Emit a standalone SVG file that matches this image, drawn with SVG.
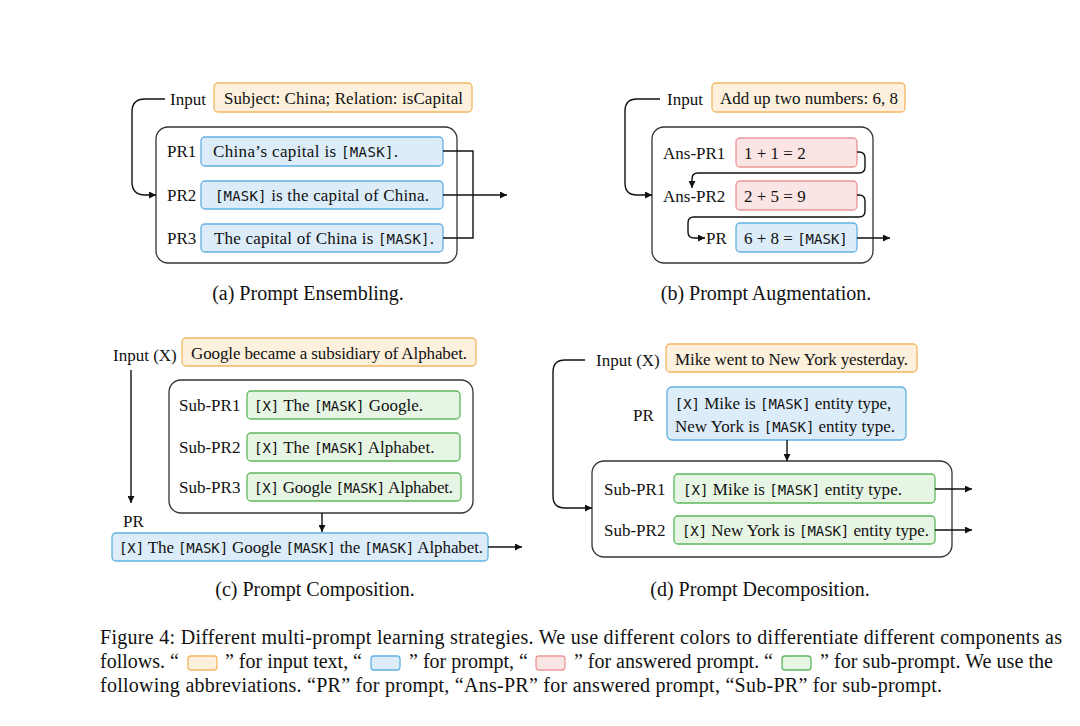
<svg xmlns="http://www.w3.org/2000/svg" width="1080" height="726" viewBox="0 0 1080 726" xml:space="preserve">
<defs>
<marker id="ah" viewBox="0 0 10 10" refX="10" refY="5" markerWidth="7" markerHeight="7" markerUnits="userSpaceOnUse" orient="auto"><path d="M0,0 L10,5 L0,10 z" fill="#111"/></marker>
<style>
.t{font-family:"Liberation Serif","Times New Roman",serif;font-size:17px;fill:#111}
.m{font-family:"DejaVu Sans Mono",monospace;font-size:14px}
.cap{font-family:"Liberation Serif","Times New Roman",serif;font-size:20px;fill:#111}
.outer{fill:#fff;stroke:#333;stroke-width:1.3}
.in{fill:#fdf1de;stroke:#f3b662;stroke-width:1.3}
.pr{fill:#dcecf9;stroke:#62b0e2;stroke-width:1.3}
.ans{fill:#fbe4e4;stroke:#ec9696;stroke-width:1.3}
.sub{fill:#e7f5e5;stroke:#5db75c;stroke-width:1.3}
.c{fill:none;stroke:#111;stroke-width:1.4}
.a{fill:none;stroke:#111;stroke-width:1.4;marker-end:url(#ah)}
</style>
</defs>
<rect width="1080" height="726" fill="#fff"/>

<!-- (a) Prompt Ensembling -->
<g id="a-input"><text class="t" x="170" y="105">Input</text><rect class="in" x="214" y="83" width="258" height="29" rx="4"/><text class="t" x="224" y="104" textLength="239" lengthAdjust="spacing">Subject: China; Relation: isCapital</text></g>
<g id="a-outer"><rect class="outer" x="156" y="127" width="301" height="136" rx="12"/></g>
<g id="a-pr1"><text class="t" x="167" y="157">PR1</text><rect class="pr" x="201" y="137" width="242" height="29" rx="4"/><text class="t" x="213" y="157" textLength="185" lengthAdjust="spacing">China’s capital is <tspan class="m">[MASK]</tspan>.</text></g>
<g id="a-pr2"><text class="t" x="167" y="201">PR2</text><rect class="pr" x="201" y="181" width="242" height="28" rx="4"/><text class="t" x="215" y="201" textLength="214" lengthAdjust="spacing"><tspan class="m">[MASK]</tspan>  is the capital of China.</text></g>
<g id="a-pr3"><text class="t" x="167" y="244">PR3</text><rect class="pr" x="201" y="224" width="242" height="28" rx="4"/><text class="t" x="214" y="244" textLength="220" lengthAdjust="spacing">The capital of China is <tspan class="m">[MASK]</tspan>.</text></g>
<text class="cap" x="308" y="300" text-anchor="middle">(a) Prompt Ensembling.</text>

<!-- (b) Prompt Augmentation -->
<g id="b-input"><text class="t" x="667" y="105">Input</text><rect class="in" x="712" y="83" width="193" height="29" rx="4"/><text class="t" x="720" y="104" textLength="178" lengthAdjust="spacing">Add up two numbers: 6, 8</text></g>
<g id="b-outer"><rect class="outer" x="652" y="127" width="221" height="136" rx="12"/></g>
<g id="b-ans1"><text class="t" x="663" y="159">Ans-PR1</text><rect class="ans" x="736" y="138" width="121" height="29" rx="4"/><text class="t" x="744" y="159">1 + 1 = 2</text></g>
<g id="b-ans2"><text class="t" x="663" y="202">Ans-PR2</text><rect class="ans" x="736" y="181" width="121" height="29" rx="4"/><text class="t" x="744" y="202">2 + 5 = 9</text></g>
<g id="b-pr"><text class="t" x="706" y="244">PR</text><rect class="pr" x="736" y="223" width="121" height="29" rx="4"/><text class="t" x="744" y="244">6 + 8 = <tspan class="m">[MASK]</tspan></text></g>
<text class="cap" x="766" y="300" text-anchor="middle">(b) Prompt Augmentation.</text>

<!-- (c) Prompt Composition -->
<g id="c-input"><text class="t" x="113" y="361">Input (X)</text><rect class="in" x="182" y="338" width="294" height="28" rx="4"/><text class="t" x="191" y="359" textLength="276" lengthAdjust="spacing">Google became a subsidiary of Alphabet.</text></g>
<g id="c-outer"><rect class="outer" x="169" y="380" width="304" height="133" rx="12"/></g>
<g id="c-sub1"><text class="t" x="179" y="411">Sub-PR1</text><rect class="sub" x="247" y="391" width="213" height="28" rx="4"/><text class="t" x="254" y="411"><tspan class="m">[X]</tspan> The <tspan class="m">[MASK]</tspan> Google.</text></g>
<g id="c-sub2"><text class="t" x="179" y="453">Sub-PR2</text><rect class="sub" x="247" y="433" width="213" height="28" rx="4"/><text class="t" x="254" y="453"><tspan class="m">[X]</tspan> The <tspan class="m">[MASK]</tspan> Alphabet.</text></g>
<g id="c-sub3"><text class="t" x="179" y="493">Sub-PR3</text><rect class="sub" x="247" y="473" width="214" height="28" rx="4"/><text class="t" x="254" y="493" textLength="199" lengthAdjust="spacing"><tspan class="m">[X]</tspan> Google <tspan class="m">[MASK]</tspan> Alphabet.</text></g>
<g id="c-pr"><text class="t" x="123" y="527">PR</text><rect class="pr" x="112" y="533" width="376" height="28" rx="4"/><text class="t" x="119" y="553" textLength="364" lengthAdjust="spacing"><tspan class="m">[X]</tspan> The <tspan class="m">[MASK]</tspan> Google <tspan class="m">[MASK]</tspan> the <tspan class="m">[MASK]</tspan> Alphabet.</text></g>
<text class="cap" x="315" y="596" text-anchor="middle">(c) Prompt Composition.</text>

<!-- (d) Prompt Decomposition -->
<g id="d-input"><text class="t" x="596" y="366">Input (X)</text><rect class="in" x="666" y="344" width="251" height="28" rx="4"/><text class="t" x="675" y="365" textLength="233" lengthAdjust="spacing">Mike went to New York yesterday.</text></g>
<g id="d-pr"><text class="t" x="633" y="421">PR</text><rect class="pr" x="667" y="387" width="239" height="53" rx="5"/><text class="t" x="783" y="409" text-anchor="middle"><tspan class="m">[X]</tspan> Mike is <tspan class="m">[MASK]</tspan> entity type,</text><text class="t" x="785" y="432" text-anchor="middle">New York is <tspan class="m">[MASK]</tspan> entity type.</text></g>
<g id="d-outer"><rect class="outer" x="592" y="461" width="360" height="96" rx="12"/></g>
<g id="d-sub1"><text class="t" x="604" y="495">Sub-PR1</text><rect class="sub" x="674" y="474" width="261" height="29" rx="4"/><text class="t" x="683" y="495" textLength="219" lengthAdjust="spacing"><tspan class="m">[X]</tspan>  Mike is <tspan class="m">[MASK]</tspan> entity type.</text></g>
<g id="d-sub2"><text class="t" x="604" y="536">Sub-PR2</text><rect class="sub" x="674" y="516" width="261" height="28" rx="4"/><text class="t" x="682" y="536" textLength="247" lengthAdjust="spacing"><tspan class="m">[X]</tspan>  New York is <tspan class="m">[MASK]</tspan> entity type.</text></g>
<text class="cap" x="760" y="596" text-anchor="middle">(d) Prompt Decomposition.</text>

<!-- connectors -->
<g id="connectors">
<path class="a" d="M165,99 H145 Q132,99 132,112 V182 Q132,195 145,195 H156"/>
<path class="c" d="M443,151 H473 V238 H443"/>
<path class="a" d="M443,195 H507"/>
<path class="a" d="M660,99 H637 Q625,99 625,111 V183 Q625,195 637,195 H652"/>
<path class="a" d="M857,152 H859 Q865,152 865,158 V167 Q865,173 859,173 H698 Q692,173 692,179 V188"/>
<path class="a" d="M857,195 H859 Q865,195 865,201 V211 Q865,217 859,217 H694 Q688,217 688,223 V232 Q688,238 694,238 H705"/>
<path class="a" d="M857,238 H890"/>
<path class="a" d="M131,370 V503"/>
<path class="a" d="M322,513 V532"/>
<path class="a" d="M488,547 H522"/>
<path class="a" d="M585,360 H565 Q553,360 553,372 V496 Q553,508 565,508 H592"/>
<path class="a" d="M787,440 V461"/>
<path class="a" d="M935,489 H972"/>
<path class="a" d="M935,530 H972"/>
</g>

<!-- figure caption -->
<g id="caption">
<text class="cap" x="100" y="644" textLength="962" lengthAdjust="spacing">Figure 4: Different multi-prompt learning strategies. We use different colors to differentiate different components as</text>
<text class="cap" x="100" y="668" textLength="79" lengthAdjust="spacing">follows. “</text>
<rect class="in" x="188" y="656" width="29" height="14" rx="3"/>
<text class="cap" x="225" y="668" textLength="137" lengthAdjust="spacing">” for input text, “</text>
<rect class="pr" x="371" y="656" width="29" height="14" rx="3"/>
<text class="cap" x="409" y="668" textLength="119" lengthAdjust="spacing">” for prompt, “</text>
<rect class="ans" x="536" y="656" width="29" height="14" rx="3"/>
<text class="cap" x="574" y="668" textLength="199" lengthAdjust="spacing">” for answered prompt. “</text>
<rect class="sub" x="782" y="656" width="29" height="14" rx="3"/>
<text class="cap" x="820" y="668" textLength="233" lengthAdjust="spacing">” for sub-prompt. We use the</text>
<text class="cap" x="100" y="692" textLength="842" lengthAdjust="spacing">following abbreviations. “PR” for prompt, “Ans-PR” for answered prompt, “Sub-PR” for sub-prompt.</text>
</g>
</svg>
